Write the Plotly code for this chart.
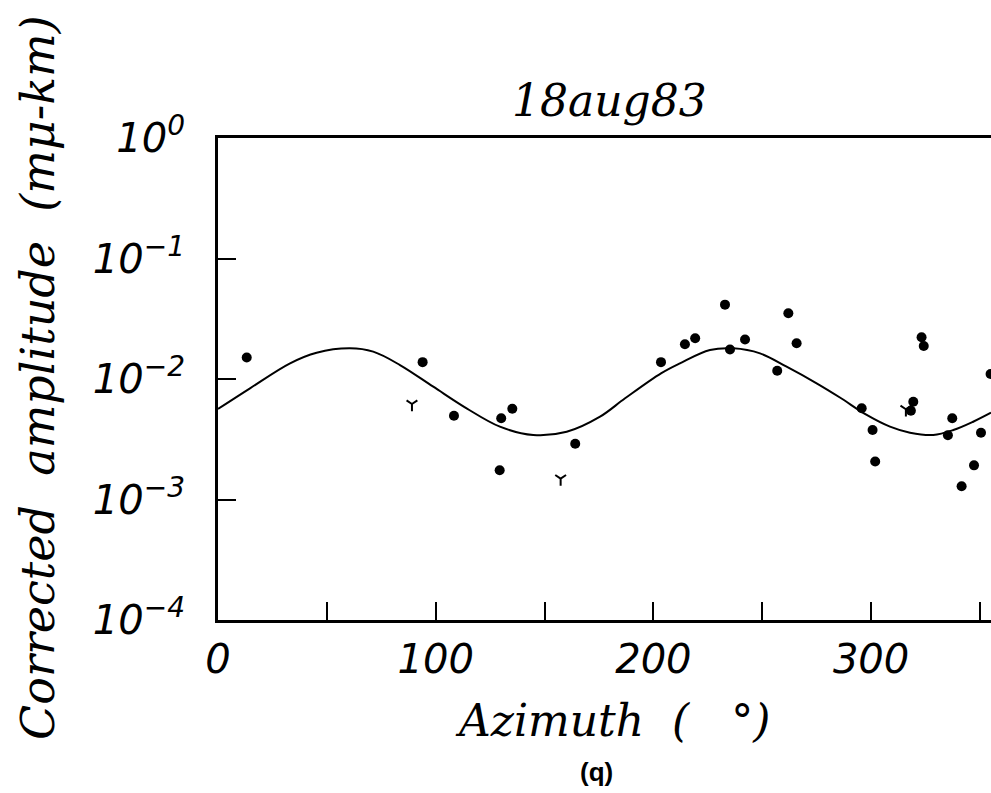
import plotly.graph_objects as go

# ---- data ----
dot_az = [13.2, 94.0, 108.4, 129.4, 130.1, 135.2, 164.1, 203.5, 214.5, 219.2,
          232.9, 235.2, 242.1, 256.9, 262.0, 265.8, 295.7, 300.7, 301.9, 318.3,
          319.4, 323.2, 324.2, 335.3, 337.3, 341.6, 347.3, 350.5, 354.9]
dot_amp = [0.0151, 0.0138, 0.00496, 0.00175, 0.00472, 0.00567, 0.00290, 0.0138, 0.0194, 0.0218,
           0.0414, 0.0176, 0.0213, 0.0117, 0.0351, 0.0198, 0.00571, 0.00377, 0.00207, 0.00546,
           0.00648, 0.0222, 0.0188, 0.00341, 0.00472, 0.00129, 0.00192, 0.00358, 0.0110]

y_az = [89.1, 157.4, 316.0]
y_amp = [0.00620, 0.00149, 0.00561]

curve_az = [0, 14.7, 33.1, 45.3, 60.6, 71.3, 83.6, 98.9, 114.2, 129.5, 144.8, 160.2,
            175.5, 187.0, 203.5, 212.2, 226.0, 236.7, 249.0, 261.2, 275.0, 285.7,
            298.0, 308.7, 317.9, 328.6, 337.8, 346.9, 355.1]
curve_amp = [0.00564, 0.00837, 0.01350, 0.01653, 0.01797, 0.01686, 0.01306, 0.00863,
             0.00571, 0.00402, 0.00343, 0.00365, 0.00487, 0.00692, 0.01115, 0.01350,
             0.01741, 0.01797, 0.01633, 0.01265, 0.00921, 0.00702, 0.00503, 0.00402,
             0.00358, 0.00343, 0.00377, 0.00442, 0.00525]

x_tickvals = [0, 50, 100, 150, 200, 250, 300, 350]
x_ticktext = ["0", "", "100", "", "200", "", "300", ""]
y_tickvals = [1e-4, 1e-3, 1e-2, 1e-1, 1e0]
y_ticktext = ["10<sup>−4</sup>", "10<sup>−3</sup>", "10<sup>−2</sup>", "10<sup>−1</sup>", "10<sup>0</sup>"]

title_text = "18aug83"
x_title = "Azimuth  (   °)"
y_title = "Corrected  amplitude  (mμ-km)"
panel_label = "(q)"

fig = go.Figure()
fig.add_trace(go.Scatter(x=curve_az, y=curve_amp, mode="lines",
                         line=dict(color="black", width=2, shape="spline", smoothing=1.0),
                         hoverinfo="skip", showlegend=False))
fig.add_trace(go.Scatter(x=dot_az, y=dot_amp, mode="markers",
                         marker=dict(symbol="circle", size=10, color="black"),
                         showlegend=False))
fig.add_trace(go.Scatter(x=y_az, y=y_amp, mode="markers",
                         marker=dict(symbol="y-down", size=9, color="black",
                                     line=dict(color="black", width=2)),
                         showlegend=False))

tick_font = dict(family="DejaVu Sans", size=40, color="black", style="italic")
fig.update_layout(
    width=991, height=793,
    margin=dict(l=218, r=0, t=138, b=173, pad=0, autoexpand=False),
    paper_bgcolor="white", plot_bgcolor="white",
    showlegend=False,
    xaxis=dict(range=[0, 355.1], tickmode="array", tickvals=x_tickvals, ticktext=x_ticktext,
               ticks="inside", ticklen=18, tickwidth=1.5, tickcolor="black",
               showline=True, linecolor="black", linewidth=3, mirror=True,
               showgrid=False, zeroline=False, automargin=False, ticklabelstandoff=2,
               tickfont=tick_font),
    yaxis=dict(type="log", range=[-4, 0], tickmode="array", tickvals=y_tickvals, ticktext=y_ticktext,
               ticks="inside", ticklen=18, tickwidth=1.5, tickcolor="black",
               showline=True, linecolor="black", linewidth=3, mirror=False,
               showgrid=False, zeroline=False, automargin=False, ticklabelstandoff=22,
               tickfont=tick_font),
)

serif = dict(family="DejaVu Serif", color="black", style="italic")
fig.add_annotation(text=title_text, x=180, xref="x", y=(620 - 100) / 482, yref="paper",
                   xanchor="center", yanchor="middle", showarrow=False,
                   font=dict(serif, size=44))
fig.add_annotation(text=x_title, x=(612 - 218) / 773, xref="paper", y=(620 - 720) / 482, yref="paper",
                   xanchor="center", yanchor="middle", showarrow=False,
                   font=dict(serif, size=44))
fig.add_annotation(text=y_title, x=(38 - 218) / 773, xref="paper", y=(620 - 378) / 482, yref="paper",
                   xanchor="center", yanchor="middle", showarrow=False, textangle=-90,
                   font=dict(serif, size=46))
fig.add_annotation(text="<b>" + panel_label + "</b>", x=(596 - 218) / 773, xref="paper",
                   y=(620 - 772) / 482, yref="paper",
                   xanchor="center", yanchor="middle", showarrow=False,
                   font=dict(family="Liberation Sans", size=26, color="black"))

fig.write_html("out.html", config={"displayModeBar": False},
               post_script="document.body.style.margin='0px';")
